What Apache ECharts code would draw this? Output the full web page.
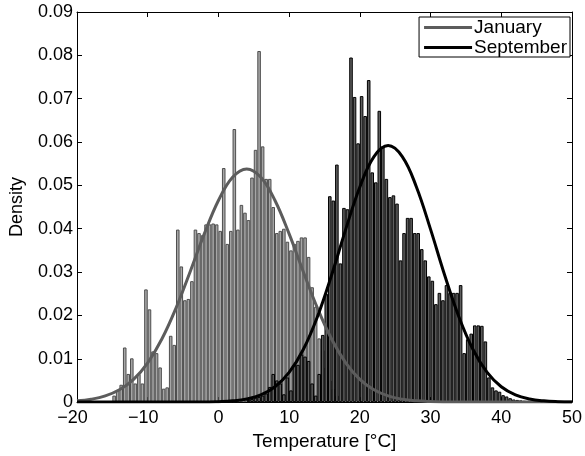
<!DOCTYPE html>
<html>
<head>
<meta charset="utf-8">
<script src="https://cdn.jsdelivr.net/npm/echarts@6/dist/echarts.min.js"></script>
<style>html,body{margin:0;padding:0;background:#fff}#c{width:585px;height:456px}</style>
</head>
<body>
<div id="c"></div>
<script>
// Histogram bin centres (°C)
var janBins = [-14.75,-14.25,-13.75,-13.25,-12.75,-12.25,-11.75,-11.25,-10.75,-10.25,-9.75,-9.25,-8.75,-8.25,-7.75,-7.25,-6.75,-6.25,-5.75,-5.25,-4.75,-4.25,-3.75,-3.25,-2.75,-2.25,-1.75,-1.25,-0.75,-0.25,0.25,0.75,1.25,1.75,2.25,2.75,3.25,3.75,4.25,4.75,5.25,5.75,6.25,6.75,7.25,7.75,8.25,8.75,9.25,9.75,10.25,10.75,11.25,11.75,12.25,12.75,13.25,13.75,14.25,14.75,15.25,15.75,16.25,16.75];
var janDensity = [0.0015,0.0027,0.004,0.0126,0.0065,0.0101,0.0043,0.0065,0.0043,0.026,0.0214,0.0117,0.0113,0.008,0.0031,0.0034,0.0153,0.0132,0.0398,0.0313,0.0235,0.0238,0.0279,0.0398,0.039,0.0385,0.041,0.041,0.0412,0.041,0.0395,0.054,0.0365,0.0395,0.063,0.0398,0.0455,0.0437,0.042,0.0518,0.0582,0.081,0.059,0.0515,0.0515,0.045,0.039,0.0395,0.040,0.037,0.035,0.0365,0.0372,0.038,0.038,0.0335,0.0265,0.022,0.0147,0.012,0.008,0.005,0.003,0.0015];
var sepBins = [4.25,4.75,5.25,5.75,6.25,6.75,7.25,7.75,8.25,8.75,9.25,9.75,10.25,10.75,11.25,11.75,12.25,12.75,13.25,13.75,14.25,14.75,15.25,15.75,16.25,16.75,17.25,17.75,18.25,18.75,19.25,19.75,20.25,20.75,21.25,21.75,22.25,22.75,23.25,23.75,24.25,24.75,25.25,25.75,26.25,26.75,27.25,27.75,28.25,28.75,29.25,29.75,30.25,30.75,31.25,31.75,32.25,32.75,33.25,33.75,34.25,34.75,35.25,35.75,36.25,36.75,37.25,37.75,38.25,38.75,39.25,39.75,40.25,40.75,41.25,41.75,42.25,42.75,43.25];
var sepDensity = [0.0005,0.0007,0.001,0.0012,0.0015,0.002,0.0035,0.0065,0.005,0.0043,0.0018,0.0057,0.0027,0.0086,0.0086,0.011,0.0105,0.0095,0.0043,0.0015,0.0065,0.0155,0.025,0.0475,0.0465,0.0548,0.032,0.0448,0.0445,0.0795,0.0704,0.0597,0.0706,0.066,0.0743,0.053,0.0507,0.0672,0.059,0.0515,0.0473,0.0477,0.0458,0.0327,0.039,0.0425,0.0425,0.039,0.039,0.0353,0.0327,0.029,0.028,0.0226,0.0252,0.0235,0.027,0.0252,0.0252,0.0252,0.027,0.0113,0.0145,0.0158,0.0177,0.0177,0.0176,0.014,0.0057,0.0034,0.0027,0.0024,0.0016,0.0013,0.0009,0.0006,0.0005,0.0004,0.0003];
// Fitted density curves, read at 2 °C steps
var curveX = [-20,-18,-16,-14,-12,-10,-8,-6,-4,-2,0,2,4,6,8,10,12,14,16,18,20,22,24,26,28,30,32,34,36,38,40,42,44,46,48,50];
var janCurve = [0.00029,0.00066,0.00142,0.00284,0.00526,0.00907,0.01455,0.02169,0.03009,0.0388,0.04652,0.05188,0.0538,0.05188,0.04652,0.0388,0.03009,0.02169,0.01455,0.00907,0.00526,0.00284,0.00142,0.00066,0.00029,0.00012,0.00004,0.00001,0,0,0,0,0,0,0,0];
var sepCurve = [0,0,0,0,0,0,0,0,0,0,0.0001,0.00029,0.00073,0.00167,0.00354,0.00685,0.01213,0.0197,0.02927,0.03984,0.04964,0.05665,0.0592,0.05665,0.04964,0.03984,0.02927,0.0197,0.01213,0.00685,0.00354,0.00167,0.00073,0.00029,0.0001,0.00003];
var seriesNames = ['January','September'];

function pairs(xs, ys){ return xs.map(function(x,i){ return [x, ys[i]]; }); }

var FONT = 'Liberation Sans';
var chart = echarts.init(document.getElementById('c'), null, {renderer:'canvas'});
function axisCommon(){
  return {
    axisLine:{show:true, onZero:false, lineStyle:{color:'#000', width:1}},
    axisTick:{show:true, inside:true, length:5, lineStyle:{color:'#000'}},
    splitLine:{show:false}
  };
}
chart.setOption({
  animation:false,
  backgroundColor:'#fff',
  grid:{left:75, right:11, top:12, bottom:44, containLabel:false},
  legend:{
    data:[{name:seriesNames[0], icon:'rect'},{name:seriesNames[1], icon:'rect'}],
    orient:'vertical', right:15, top:17,
    itemWidth:48, itemHeight:3, itemGap:1,
    borderColor:'#000', borderWidth:1, borderRadius:0,
    padding:[1,3,0,5],
    backgroundColor:'#fff',
    textStyle:{fontFamily:FONT, fontSize:19, color:'#000', padding:[0,0,0,-3], lineHeight:19}
  },
  xAxis:[
    Object.assign({type:'value', min:-20, max:50, interval:10, position:'bottom',
      name:'Temperature [°C]', nameLocation:'middle', nameGap:24,
      nameTextStyle:{fontFamily:FONT, fontSize:19, color:'#000'},
      axisLabel:{fontFamily:FONT, fontSize:18, color:'#000', margin:7,
        formatter:function(v){ return v < 0 ? '{n|' + String(v).replace('-', '\u2212') + '}' : String(v); },
        rich:{n:{fontFamily:FONT, fontSize:18, color:'#000', padding:[0,9,0,0]}}}
    }, axisCommon()),
    Object.assign({type:'value', min:-20, max:50, interval:10, position:'top',
      axisLabel:{show:false}}, axisCommon())
  ],
  yAxis:[
    Object.assign({type:'value', min:0, max:0.09, interval:0.01, position:'left',
      name:'Density', nameLocation:'middle', nameGap:51, nameRotate:90,
      nameTextStyle:{fontFamily:FONT, fontSize:18, color:'#000'},
      axisLabel:{fontFamily:FONT, fontSize:18, color:'#000', margin:4,
        formatter:function(v){ return v === 0 ? '0' : v.toFixed(2); }}
    }, axisCommon()),
    Object.assign({type:'value', min:0, max:0.09, interval:0.01, position:'right',
      axisLabel:{show:false}}, axisCommon())
  ],
  series:[
    {name:'janHist', type:'bar', data:pairs(janBins, janDensity), barWidth:3.56, barGap:'-100%',
      itemStyle:{color:'#a6a6a6', borderColor:'#4e4e4e', borderWidth:1}, silent:true, legendHoverLink:false},
    {name:'sepHist', type:'bar', data:pairs(sepBins, sepDensity), barWidth:3.56, barGap:'-100%',
      itemStyle:{color:'#5e5e5e', borderColor:'#000000', borderWidth:1}, silent:true, legendHoverLink:false},
    {name:seriesNames[0], type:'line', data:pairs(curveX, janCurve), smooth:0.4, showSymbol:false,
      lineStyle:{color:'#5c5c5c', width:3}, itemStyle:{color:'#5c5c5c'}, z:5},
    {name:seriesNames[1], type:'line', data:pairs(curveX, sepCurve), smooth:0.4, showSymbol:false,
      lineStyle:{color:'#000', width:3}, itemStyle:{color:'#000'}, z:5}
  ]
});
</script>
</body>
</html>
